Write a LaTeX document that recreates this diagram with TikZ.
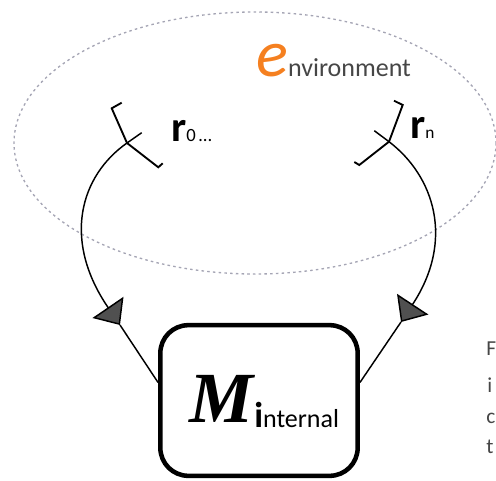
\documentclass[tikz,border=0pt]{standalone}
\usepackage{fontspec}
\setmainfont{Carlito}
\newfontfamily\mfont{Liberation Serif}
\usetikzlibrary{arrows.meta}
\definecolor{envorange}{RGB}{245,128,32}
\definecolor{envgray}{RGB}{70,70,70}
\definecolor{dotgray}{RGB}{165,165,180}
\definecolor{tipgray}{RGB}{80,80,80}
\begin{document}
\begin{tikzpicture}[x=0.75pt,y=-0.75pt,
  conn/.style={line width=1.1pt, black},
  recep/.style={line width=1.4pt, black, line join=miter},
  tipstyle/.style={-{Triangle[length=16pt,width=28pt,fill=tipgray]}},
  lbl/.style={inner sep=0pt, anchor=base west},
  envdots/.style={dotgray, line width=1pt, dash pattern=on 1.9pt off 2.4pt},
  boxstyle/.style={draw, line width=3.4pt, rounded corners=21pt, minimum width=148pt, minimum height=113pt, inner sep=0pt}]
\useasboundingbox (0,0) rectangle (496,481);
% environment
\draw[envdots] (255,143) ellipse [x radius=241, y radius=131];
\node[lbl] (env) at (256,77) {{\color{envorange}\fontsize{50}{50}\selectfont\itshape e}{\color{envgray}\fontsize{19.5}{19.5}\selectfont nvironment}};
% box
\node[boxstyle] (M) at (259,400.5) {};
\node[lbl] (Mlbl) at (189,422) {\mfont\bfseries\itshape\fontsize{54}{54}\selectfont M};
\node[lbl] (intl) at (254,427) {{\bfseries\fontsize{27}{27}\selectfont i}{\fontsize{19.5}{19.5}\selectfont nternal}};
% receptor coordinates
\coordinate (rL) at (127,143);
\coordinate (tL) at (141.7,132.7);
\coordinate (aL) at (120,325);
\coordinate (rR) at (389,141.7);
\coordinate (tR) at (374.3,130.7);
\coordinate (aR) at (401,322);
% receptors
\draw[recep] (121.7,102.7) -- (111.7,108.3) -- (rL) -- (158.3,167.3) -- (162.7,163.3);
\draw[recep] (394,100.7) -- (402.7,105) -- (rR) -- (359.3,165) -- (354.3,162);
\draw[conn] (rL) -- (tL);
\draw[conn] (rR) -- (tR);
% connectors
\draw[conn, tipstyle] (rL) .. controls (80,176) and (62,240) .. (aL);
\draw[conn] (aL) -- ([yshift=13.5pt]M.west);
\draw[conn, tipstyle] (rR) .. controls (434,176) and (455,240) .. (aR);
\draw[conn] (aR) -- ([yshift=13.5pt]M.east);
% labels
\node[lbl] (r0) at (171,142) {\bfseries\fontsize{32}{32}\selectfont r\mdseries\fontsize{14}{14}\selectfont 0\,…};
\node[lbl] (rn) at (410,139) {\bfseries\fontsize{32}{32}\selectfont r\mdseries\fontsize{13}{13}\selectfont n};
% cut-off paragraph text at right edge
\node[lbl, envgray] (p1) at (486,355) {\fontsize{16}{16}\selectfont F};
\node[lbl, envgray] (p2) at (487,392) {\fontsize{16}{16}\selectfont i};
\node[lbl, envgray] (p3) at (486,423) {\fontsize{16}{16}\selectfont c};
\node[lbl, envgray] (p4) at (486,453) {\fontsize{16}{16}\selectfont t};
\end{tikzpicture}
\end{document}
